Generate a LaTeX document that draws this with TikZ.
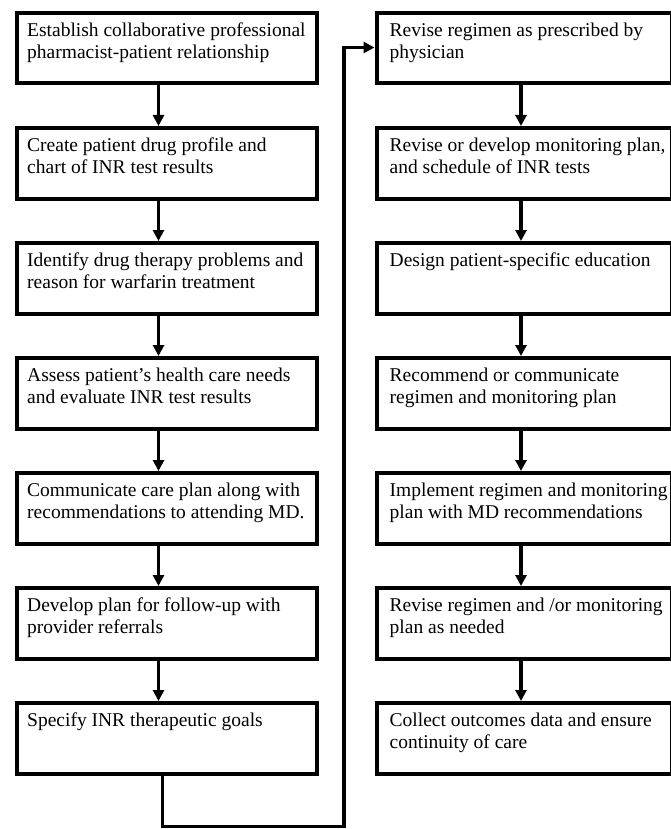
\documentclass[tikz,border=0pt]{standalone}
\usepackage{fontspec}
\setmainfont{Liberation Serif}
\usetikzlibrary{arrows.meta}

\begin{document}
\begin{tikzpicture}[x=1pt,y=-1pt,
  stepbox/.style={draw, line width=4pt, inner sep=0pt, anchor=north west,
    minimum height=70.5pt},
  leftbox/.style={stepbox, minimum width=300.5pt},
  rightbox/.style={stepbox, minimum width=295pt},
  boxtext/.style={anchor=north west, inner sep=0pt, align=left,
    font=\fontsize{19.5}{22}\selectfont},
  flow/.style={line width=3.5pt, -{Triangle[length=11pt,width=11pt]}},
  loopline/.style={line width=3.2pt}
]
\useasboundingbox (0,0) rectangle (671,829);

% one box with its two-line caption, set from the top left corner
\newcommand\flowbox[6]{%
  \node[#1] (#2) at (#3,#4) {};
  \node[boxtext] (#2t) at ([xshift=#5pt,yshift=-10.3pt]#2.north west) {\strut #6};
}

% left column
\flowbox{leftbox}{l1}{14.5}{11}{12.5}{Establish collaborative professional\\pharmacist-patient relationship}
\flowbox{leftbox}{l2}{14.5}{126}{12.5}{Create patient drug profile and\\chart of INR test results}
\flowbox{leftbox}{l3}{14.5}{241}{12.5}{Identify drug therapy problems and\\reason for warfarin treatment}
\flowbox{leftbox}{l4}{14.5}{356}{12.5}{Assess patient’s health care needs\\and evaluate INR test results}
\flowbox{leftbox}{l5}{14.5}{471}{12.5}{Communicate care plan along with\\recommendations to attending MD.}
\flowbox{leftbox}{l6}{14.5}{586}{12.5}{Develop plan for follow-up with\\provider referrals}
\flowbox{leftbox}{l7}{14.5}{701}{12.5}{Specify INR therapeutic goals}

% right column
\flowbox{rightbox}{r1}{374.5}{11}{15}{Revise regimen as prescribed by\\physician}
\flowbox{rightbox}{r2}{374.5}{126}{15}{Revise or develop monitoring plan,\\and schedule of INR tests}
\flowbox{rightbox}{r3}{374.5}{241}{15}{Design patient-specific education}
\flowbox{rightbox}{r4}{374.5}{356}{15}{Recommend or communicate\\regimen and monitoring plan}
\flowbox{rightbox}{r5}{374.5}{471}{15}{Implement regimen and monitoring\\plan with MD recommendations}
\flowbox{rightbox}{r6}{374.5}{586}{15}{Revise regimen and /or monitoring\\plan as needed}
\flowbox{rightbox}{r7}{374.5}{701}{15}{Collect outcomes data and ensure\\continuity of care}

% arrows down each column
\foreach \a/\b in {l1/l2,l2/l3,l3/l4,l4/l5,l5/l6,l6/l7}
  \draw[flow] (\a.south -| 158.5,0) -- (\b.north -| 158.5,0);
\foreach \a/\b in {r1/r2,r2/r3,r3/r4,r4/r5,r5/r6,r6/r7}
  \draw[flow] (\a.south -| 521,0) -- (\b.north -| 521,0);

% return path from the last left step to the first right step
\coordinate (c1) at (162.7,826.5);
\coordinate (c2) at (344,826.5);
\coordinate (c3) at (344,47.5);
\draw[loopline] (l7.south -| c1) -- (c1) -- (c2) -- (c3);
\draw[flow, line width=3.2pt] ([xshift=-1.6pt]c3) -- (r1.west |- c3);
\end{tikzpicture}
\end{document}
